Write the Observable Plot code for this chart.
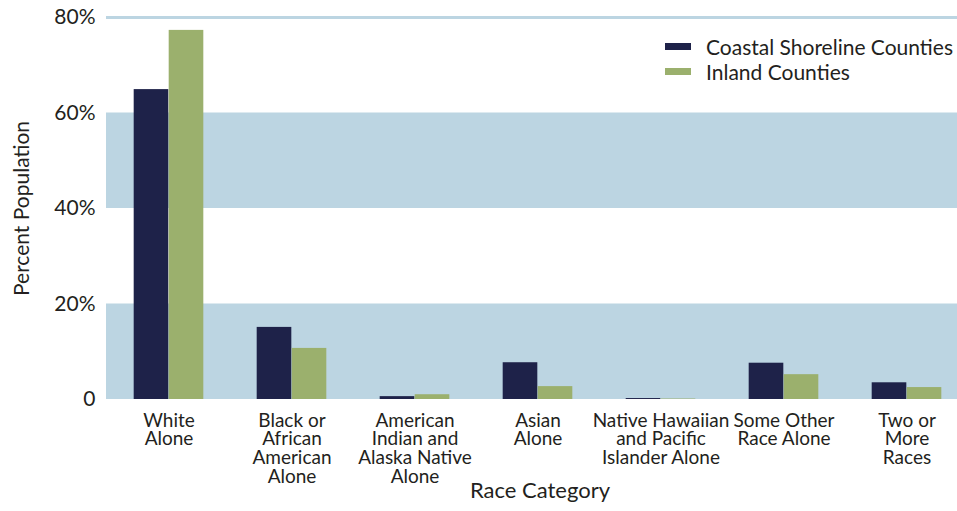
<!DOCTYPE html>
<html>
<head>
<meta charset="utf-8">
<script src="https://cdn.jsdelivr.net/npm/d3@7"></script>
<script src="https://cdn.jsdelivr.net/npm/@observablehq/plot@0.6"></script>
<style>
  html, body { margin: 0; padding: 0; background: #fff; }
  #wrap { position: relative; width: 957px; height: 511px; font-family: Lato, sans-serif; color: #231F20; }
  #legend { position: absolute; left: 665px; top: 34px; font-size: 21px; line-height: 25px; }
  .item { display: flex; align-items: center; white-space: nowrap; }
  .sw { width: 26px; height: 7px; margin-right: 15px; }
</style>
</head>
<body>
<div id="wrap"><div id="legend"></div></div>
<script>
const categories = ["White Alone", "Black or African American Alone", "American Indian and Alaska Native Alone", "Asian Alone", "Native Hawaiian and Pacific Islander Alone", "Some Other Race Alone", "Two or More Races"];
const categoryLabels = ["White\nAlone", "Black or\nAfrican\nAmerican\nAlone", "American\nIndian and\nAlaska Native\nAlone", "Asian\nAlone", "Native Hawaiian\nand Pacific\nIslander Alone", "Some Other\nRace Alone", "Two or\nMore\nRaces"];
const seriesNames = ["Coastal Shoreline Counties", "Inland Counties"];
const coastal = [64.9, 15.1, 0.6, 7.7, 0.2, 7.6, 3.5];
const inland = [77.3, 10.7, 1.0, 2.7, 0.1, 5.2, 2.5];
const yTicks = [0, 20, 40, 60, 80];
const bandStops = [[0, 20], [40, 60]];
const colors = ["#1E2249", "#9BB06D"];

const rows = [];
categories.forEach((c, i) => {
  rows.push({category: c, series: seriesNames[0], value: coastal[i]});
  rows.push({category: c, series: seriesNames[1], value: inland[i]});
});
const bands = bandStops.map(([a, b]) => ({y1: a, y2: b}));

const xRange = [106, 969.6];
const bw = (xRange[1] - xRange[0]) / categories.length;
const barW = 35;
const half = bw / 2;

const chart = Plot.plot({
  width: 957,
  height: 511,
  marginLeft: 106,
  marginRight: 0,
  marginTop: 17,
  marginBottom: 112,
  style: {fontFamily: "Lato, sans-serif", fontSize: "19px", color: "#231F20", background: "transparent"},
  x: {domain: categories, range: xRange, padding: 0, label: null},
  y: {domain: [0, 80], label: null},
  color: {domain: seriesNames, range: colors},
  marks: [
    Plot.rectY(bands, {y1: "y1", y2: "y2", fill: "#BCD5E2"}),
    Plot.ruleY([80], {stroke: "#BCD5E2", strokeWidth: 3}),
    Plot.barY(rows.filter(d => d.series === seriesNames[0]), {x: "category", y: "value", fill: "series", insetLeft: half - barW, insetRight: half}),
    Plot.barY(rows.filter(d => d.series === seriesNames[1]), {x: "category", y: "value", fill: "series", insetLeft: half, insetRight: half - barW}),
    Plot.axisY({ticks: yTicks, tickSize: 0, tickPadding: 11, fontSize: 21, tickFormat: d => d === 0 ? "0" : d + "%", label: null}),
    Plot.axisX({tickSize: 0, tickPadding: 13.5, fontSize: 19, lineHeight: 1, tickFormat: (d) => categoryLabels[categories.indexOf(d)], label: null}),
    Plot.text(["Percent Population"], {text: d => d, frameAnchor: "left", textAnchor: "middle", dx: -84, rotate: -90, fontSize: 21}),
    Plot.text(["Race Category"], {text: d => d, frameAnchor: "bottom", textAnchor: "middle", dy: 98, dx: 8, fontSize: 22})
  ]
});
document.getElementById("wrap").prepend(chart);

const legend = document.getElementById("legend");
seriesNames.forEach((s, i) => {
  const item = document.createElement("div");
  item.className = "item";
  const sw = document.createElement("span");
  sw.className = "sw";
  sw.style.background = colors[i];
  const t = document.createElement("span");
  t.textContent = s;
  item.append(sw, t);
  legend.append(item);
});
</script>
</body>
</html>
